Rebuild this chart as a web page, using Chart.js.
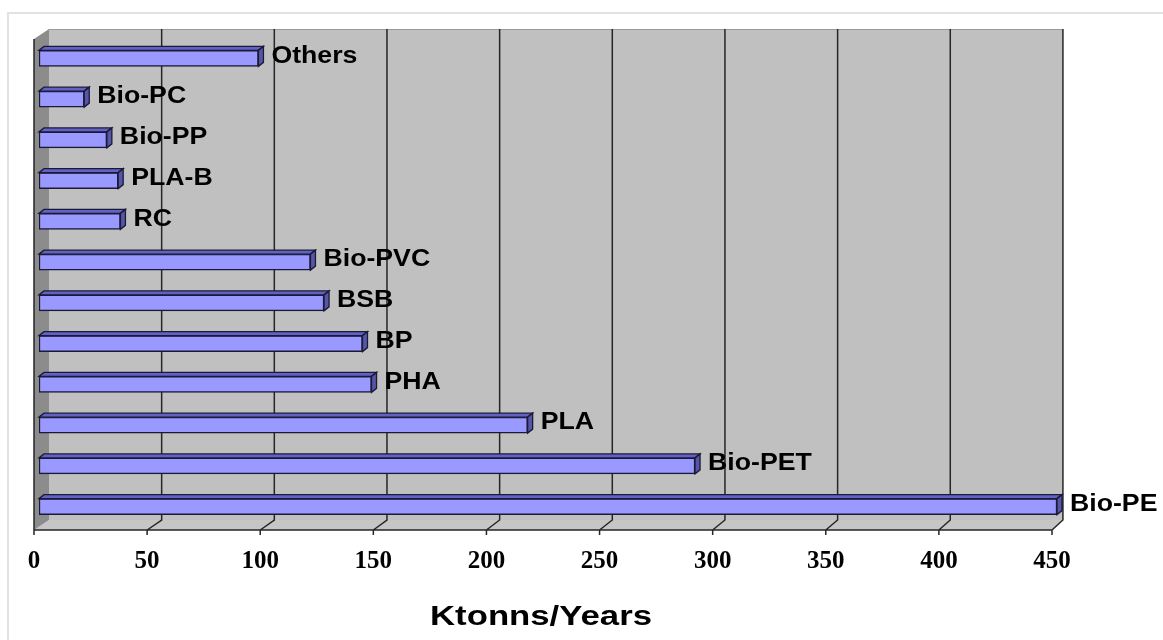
<!DOCTYPE html>
<html>
<head>
<meta charset="utf-8">
<script src="https://cdn.jsdelivr.net/npm/chart.js@4/dist/chart.umd.min.js"></script>
<style>
  html, body { margin: 0; background: #fff; }
  canvas { display: block; }
</style>
</head>
<body>
<canvas id="chart" width="1163" height="640"></canvas>
<script>
// categories listed top to bottom
const categories = ["Others", "Bio-PC", "Bio-PP", "PLA-B", "RC", "Bio-PVC", "BSB", "BP", "PHA", "PLA", "Bio-PET", "Bio-PE"];
const capacity = [97, 20, 30, 35, 36, 120, 126, 143, 147, 216, 290, 450];
const xTicks = [0, 50, 100, 150, 200, 250, 300, 350, 400, 450];
const axisTitle = "Ktonns/Years";

const DEPTH_X = 5, DEPTH_Y = 4;

function poly(ctx, pts) {
    ctx.beginPath();
    ctx.moveTo(pts[0][0], pts[0][1]);
    for (let i = 1; i < pts.length; i++) ctx.lineTo(pts[i][0], pts[i][1]);
    ctx.closePath();
}

// fake excel 3d walls, floor and bar depth around the normal bars
const excel3d = {
    id: "excel3d",
    beforeDatasetsDraw(chart) {
        const { ctx, chartArea: a, scales: { x } } = chart;
        const L = x.getPixelForValue(0);
        const frontX = v => x.getPixelForValue(v) - 5;
        const backX = v => L + 10 + (x.getPixelForValue(v) - L) * 0.996;
        const backTop = a.top - 9, backBot = a.bottom - 7, frontY = a.bottom + 3;
        const last = xTicks[xTicks.length - 1];

        ctx.save();
        // outer frame
        ctx.strokeStyle = "#e2e2e2";
        ctx.lineWidth = 2;
        ctx.beginPath();
        ctx.moveTo(8, 640); ctx.lineTo(8, 13); ctx.lineTo(1163, 13);
        ctx.stroke();

        // back wall
        ctx.fillStyle = "#c0c0c0";
        ctx.fillRect(backX(0), backTop, backX(last) - backX(0), backBot - backTop);
        ctx.strokeStyle = "#9a9a9a";
        ctx.lineWidth = 1;
        ctx.beginPath();
        ctx.moveTo(backX(0), backTop + 0.5); ctx.lineTo(backX(last), backTop + 0.5);
        ctx.stroke();

        // floor
        ctx.fillStyle = "#c6c6c6";
        poly(ctx, [[frontX(0), frontY], [backX(0), backBot], [backX(last), backBot], [frontX(last), frontY]]);
        ctx.fill();

        // side wall
        ctx.fillStyle = "#8c8c8c";
        poly(ctx, [[frontX(0), backTop + 10], [backX(0), backTop], [backX(0), backBot], [frontX(0), frontY]]);
        ctx.fill();

        // grid lines on wall + floor, ticks
        ctx.strokeStyle = "#262626";
        ctx.lineWidth = 1.5;
        ctx.beginPath();
        xTicks.forEach(v => {
            if (v > 0) {
                ctx.moveTo(backX(v), backTop);
                ctx.lineTo(backX(v), backBot);
                ctx.lineTo(frontX(v), frontY);
            }
            ctx.moveTo(frontX(v), frontY);
            ctx.lineTo(frontX(v), frontY + 5);
        });
        // axes
        ctx.moveTo(frontX(0), backTop + 10);
        ctx.lineTo(frontX(0), frontY);
        ctx.lineTo(frontX(last), frontY);
        ctx.stroke();
        ctx.restore();
    },
    afterDatasetsDraw(chart) {
        const { ctx } = chart;
        const meta = chart.getDatasetMeta(0);
        ctx.save();
        meta.data.forEach((bar, i) => {
            const { x, y, base, height } = bar.getProps(["x", "y", "base", "height"], true);
            const y0 = y - height / 2, y1 = y + height / 2;
            ctx.lineWidth = 1.3;
            ctx.strokeStyle = "#1a1a36";
            ctx.fillStyle = "#6262c4";
            poly(ctx, [[base, y0], [base + DEPTH_X, y0 - DEPTH_Y], [x + DEPTH_X, y0 - DEPTH_Y], [x, y0]]);
            ctx.fill(); ctx.stroke();
            ctx.fillStyle = "#5656a8";
            poly(ctx, [[x, y0], [x + DEPTH_X, y0 - DEPTH_Y], [x + DEPTH_X, y1 - DEPTH_Y], [x, y1]]);
            ctx.fill(); ctx.stroke();

            ctx.save();
            ctx.translate(x + 13, y - 2);
            ctx.scale(1.16, 1);
            ctx.fillStyle = "#000";
            ctx.font = "bold 23px 'Liberation Sans', Arial, sans-serif";
            ctx.textBaseline = "middle";
            ctx.textAlign = "left";
            ctx.fillText(categories[i], 0, 0);
            ctx.restore();
        });
        ctx.restore();
    },
    afterDraw(chart) {
        const { ctx } = chart;
        ctx.save();
        ctx.translate(541, 617);
        ctx.scale(1.24, 1);
        ctx.fillStyle = "#000";
        ctx.font = "bold 28px 'Liberation Sans', Arial, sans-serif";
        ctx.textAlign = "center";
        ctx.textBaseline = "middle";
        ctx.fillText(axisTitle, 0, 0);
        ctx.restore();
    }
};

const config = {
    type: "bar",
    data: {
        labels: categories,
        datasets: [
            {
                label: axisTitle,
                data: capacity,
                backgroundColor: "#9999ff",
                borderColor: "#1a1a36",
                borderWidth: 1.5,
                borderSkipped: false,
                barThickness: 16,
            },
        ],
    },
    options: {
        indexAxis: "y",
        responsive: false,
        animation: false,
        devicePixelRatio: 1,
        layout: { padding: { left: 39, right: 106, top: 38, bottom: 51 } },
        plugins: {
            legend: { display: false },
            tooltip: { enabled: false },
        },
        scales: {
            x: {
                min: 0,
                max: 450,
                afterBuildTicks: axis => { axis.ticks = xTicks.map(v => ({ value: v })); },
                grid: { display: false },
                border: { display: false },
                ticks: {
                    color: "#000",
                    padding: 12,
                    labelOffset: -5,
                    maxRotation: 0,
                    font: { family: "'Liberation Serif', 'Times New Roman', serif", weight: "bold", size: 25 },
                },
            },
            y: { display: false },
        },
    },
    plugins: [excel3d],
};

const myChart = new Chart(document.getElementById("chart"), config);
</script>
</body>
</html>
